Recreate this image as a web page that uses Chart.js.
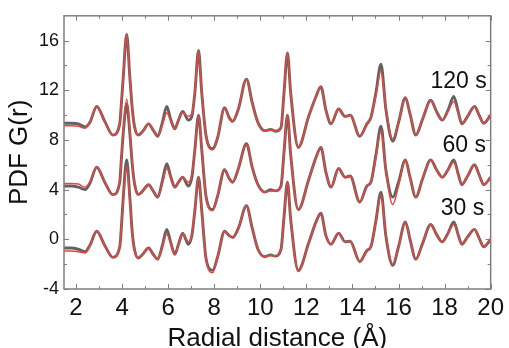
<!DOCTYPE html>
<html>
<head>
<meta charset="utf-8">
<script src="https://cdn.jsdelivr.net/npm/chart.js@4.4.0/dist/chart.umd.min.js"></script>
<style>
  html, body { margin: 0; padding: 0; background: #fff; }
  #wrap { width: 509px; height: 348px; }
</style>
</head>
<body>
<div id="wrap"><canvas id="pdfChart"></canvas></div>
<script>
// radial distance r (Å), shared by all six curves
const radius = [1.48, 1.8, 2.1, 2.4, 2.6, 2.9, 3.25, 3.6, 3.9, 3.95, 4.05, 4.2, 4.34, 4.45, 4.55, 4.7, 4.9, 5.15, 5.35, 5.55,
  5.75, 5.94, 6.12, 6.29, 6.45, 6.63, 6.88, 7.03, 7.16, 7.32, 7.46, 7.65, 7.93, 8.15, 8.45, 8.65, 8.8, 9.05, 9.4, 9.65,
  9.9, 10.2, 10.45, 10.65, 10.9, 11.03, 11.18, 11.32, 11.65, 12.1, 12.42, 12.63, 12.85, 13.07, 13.4, 13.68, 13.9, 14.32, 14.63, 14.8,
  15.02, 15.24, 15.45, 15.75, 16.0, 16.3, 16.5, 16.75, 17.05, 17.4, 17.65, 17.9, 18.15, 18.4, 18.6, 18.75, 19.0, 19.3, 19.5, 19.7, 20.0];

// measured G(r), curves already offset as in the figure
const data120 = [9.35, 9.35, 9.3, 9.05, 9.4, 10.7, 9.5, 8.4, 9.3, 10.4, 13.0, 16.5, 13.0, 10.4, 9.0, 8.4, 8.7, 9.3, 8.8, 8.3,
  9.4, 10.7, 9.6, 8.9, 9.6, 10.3, 9.6, 9.9, 11.8, 15.2, 11.8, 8.3, 7.3, 8.2, 10.6, 9.8, 9.5, 10.5, 12.9, 11.0,
  9.4, 8.75, 8.85, 8.7, 9.0, 11.8, 15.0, 11.8, 7.4, 9.9, 11.5, 12.3, 10.4, 9.3, 10.5, 9.9, 10.0, 8.3, 9.3, 9.8,
  11.8, 14.1, 10.5, 7.9, 9.4, 11.4, 10.1, 8.4, 9.7, 11.2, 10.3, 9.6, 10.4, 11.5, 10.2, 9.3, 9.9, 10.7, 10.0, 9.35, 10.0];
const fit120 = [9.15, 9.15, 9.1, 8.95, 9.4, 10.7, 9.5, 8.4, 9.3, 10.4, 13.0, 16.5, 13.0, 10.4, 9.0, 8.4, 8.7, 9.3, 8.8, 8.3,
  9.2, 10.2, 9.5, 8.9, 9.6, 10.2, 9.9, 10.1, 11.8, 15.2, 11.8, 8.3, 7.2, 8.2, 10.6, 9.8, 9.5, 10.5, 12.9, 11.0,
  9.4, 8.75, 8.8, 8.7, 9.0, 11.8, 15.0, 11.8, 7.4, 9.9, 11.5, 12.3, 10.4, 9.3, 10.5, 9.9, 10.0, 8.3, 9.3, 9.8,
  11.6, 13.6, 10.6, 8.1, 9.4, 11.4, 10.1, 8.4, 9.7, 11.2, 10.3, 9.6, 10.3, 11.1, 10.1, 9.3, 9.9, 10.7, 10.0, 9.35, 10.0];

const data60 = [4.3, 4.3, 4.2, 4.0, 4.5, 5.8, 4.6, 3.6, 4.6, 5.9, 8.5, 10.9, 8.5, 5.9, 4.4, 3.6, 3.9, 4.4, 3.9, 3.4,
  4.7, 6.1, 5.0, 4.2, 4.6, 5.0, 4.3, 5.0, 7.2, 10.0, 7.2, 3.4, 2.4, 3.5, 5.6, 4.9, 4.6, 5.7, 7.7, 5.8,
  4.4, 3.8, 4.0, 3.9, 4.3, 7.0, 10.0, 6.8, 2.4, 4.8, 6.6, 7.4, 5.4, 4.2, 5.7, 5.0, 5.1, 3.0, 4.3, 4.6,
  6.8, 9.1, 5.6, 3.4, 4.6, 6.4, 5.0, 3.4, 4.9, 6.4, 5.6, 5.0, 5.6, 6.4, 5.2, 4.4, 5.1, 6.0, 5.2, 4.4, 5.0];
const fit60 = [4.5, 4.5, 4.45, 4.2, 4.6, 5.8, 4.6, 3.6, 4.7, 6.0, 8.7, 11.3, 8.7, 6.0, 4.4, 3.6, 3.9, 4.4, 3.9, 3.4,
  4.5, 5.7, 4.9, 4.2, 4.6, 5.0, 4.6, 5.2, 7.2, 10.0, 7.2, 3.4, 2.3, 3.5, 5.6, 4.9, 4.6, 5.7, 7.7, 5.8,
  4.4, 3.8, 3.9, 3.9, 4.3, 7.0, 10.0, 6.8, 2.4, 4.8, 6.6, 7.4, 5.4, 4.2, 5.7, 5.0, 5.1, 3.0, 4.3, 4.6,
  6.6, 8.8, 5.5, 2.8, 4.3, 6.4, 5.0, 3.4, 4.9, 6.4, 5.6, 5.0, 5.6, 6.2, 5.2, 4.4, 5.1, 6.0, 5.2, 4.4, 5.0];

const data30 = [-0.7, -0.7, -0.8, -1.0, -0.5, 0.65, -0.5, -1.45, -0.6, 0.4, 3.3, 6.4, 3.3, 0.4, -0.9, -1.5, -1.2, -0.7, -1.2, -1.6,
  -0.5, 0.8, -0.3, -1.2, -0.4, 0.5, -0.4, 0.3, 2.3, 5.0, 2.3, -1.6, -2.5, -1.4, 0.65, 0.3, 0.15, 0.9, 2.7, 0.9,
  -0.8, -1.4, -1.25, -1.35, -0.8, 1.8, 4.6, 1.6, -2.5, -0.3, 1.4, 2.1, 0.3, -0.4, 0.5, -0.2, -0.15, -1.8, -0.9, -0.6,
  1.5, 3.8, 0.3, -2.1, -0.6, 1.4, 0.0, -1.6, -0.3, 1.2, 0.4, -0.2, 0.5, 1.4, 0.3, -0.4, 0.2, 0.8, 0.1, -0.6, 0.0];
const fit30 = [-0.95, -0.95, -1.0, -1.1, -0.55, 0.65, -0.5, -1.45, -0.6, 0.4, 3.1, 5.9, 3.1, 0.4, -0.9, -1.5, -1.2, -0.7, -1.2, -1.6,
  -0.6, 0.4, -0.4, -1.2, -0.4, 0.45, -0.2, 0.4, 2.3, 5.0, 2.3, -1.6, -2.7, -1.4, 0.65, 0.3, 0.15, 0.9, 2.7, 0.9,
  -0.8, -1.4, -1.3, -1.35, -0.8, 1.8, 4.6, 1.6, -2.6, -0.3, 1.4, 2.1, 0.3, -0.4, 0.5, -0.2, -0.15, -1.8, -0.9, -0.6,
  1.4, 3.6, 0.4, -2.0, -0.6, 1.4, 0.0, -1.6, -0.3, 1.2, 0.4, -0.2, 0.5, 1.2, 0.3, -0.4, 0.2, 0.8, 0.1, -0.6, 0.0];

const xTicks = [2, 4, 6, 8, 10, 12, 14, 16, 18, 20];
const xMinorTicks = [3, 5, 7, 9, 11, 13, 15, 17, 19];
const yTicks = [-4, 0, 4, 8, 12, 16];
const yMinorTicks = [-2, 2, 6, 10, 14];

const curveLabels = ['120 s', '60 s', '30 s'];
const labelAnchors = [[19.83, 12.2], [19.8, 7.0], [19.72, 1.95]];

const FONT = "'Liberation Sans', Arial, sans-serif";
const AXIS_COLOR = '#857b7b';

const toPoints = (ys) => ys.map((y, i) => ({ x: radius[i], y }));

function fitSet(ys) {
    return { data: toPoints(ys), borderColor: '#e8463e', borderWidth: 1.5, pointRadius: 0,
        cubicInterpolationMode: 'monotone', order: 0 };
}
function dataSet(ys) {
    return { data: toPoints(ys), borderColor: 'rgba(70, 70, 70, 0.85)', borderWidth: 2.9, pointRadius: 0,
        cubicInterpolationMode: 'monotone', order: 1 };
}

// frame with inward ticks on all four sides, plus curve labels
const framePlugin = {
    id: 'frame',
    afterDraw(chart) {
        const { ctx, chartArea: a, scales: { x, y } } = chart;
        ctx.save();
        ctx.strokeStyle = AXIS_COLOR;
        ctx.lineWidth = 1.5;
        ctx.strokeRect(a.left, a.top, a.right - a.left, a.bottom - a.top);
        ctx.lineWidth = 1;
        ctx.beginPath();
        const xt = (vals, len) => vals.forEach(v => {
            const px = Math.round(x.getPixelForValue(v)) + 0.5;
            ctx.moveTo(px, a.bottom); ctx.lineTo(px, a.bottom - len);
            ctx.moveTo(px, a.top); ctx.lineTo(px, a.top + len);
        });
        const yt = (vals, len) => vals.forEach(v => {
            const py = Math.round(y.getPixelForValue(v)) + 0.5;
            ctx.moveTo(a.left, py); ctx.lineTo(a.left + len, py);
            ctx.moveTo(a.right, py); ctx.lineTo(a.right - len, py);
        });
        xt(xTicks, 5); xt(xMinorTicks, 3);
        yt(yTicks, 5); yt(yMinorTicks, 3);
        ctx.stroke();

        ctx.fillStyle = '#111';
        ctx.font = '23px ' + FONT;
        ctx.textAlign = 'right';
        ctx.textBaseline = 'alphabetic';
        curveLabels.forEach((t, i) => {
            ctx.fillText(t, x.getPixelForValue(labelAnchors[i][0]), y.getPixelForValue(labelAnchors[i][1]));
        });
        ctx.restore();
    }
};

new Chart(document.getElementById('pdfChart'), {
    type: 'line',
    data: {
        datasets: [fitSet(fit120), fitSet(fit60), fitSet(fit30), dataSet(data120), dataSet(data60), dataSet(data30)]
    },
    options: {
        responsive: true,
        maintainAspectRatio: false,
        animation: false,
        layout: { padding: { top: 14, right: 16, left: 0, bottom: 0 } },
        plugins: { legend: { display: false }, tooltip: { enabled: false } },
        scales: {
            x: {
                type: 'linear',
                min: 1.48,
                max: 20,
                grid: { display: false, drawTicks: false },
                border: { display: false },
                afterBuildTicks: (s) => { s.ticks = xTicks.map(v => ({ value: v })); },
                afterFit: (s) => { s.height = 59; },
                ticks: { color: '#111', padding: 5, maxRotation: 0, font: { family: FONT, size: 24 } },
                title: { display: true, text: 'Radial distance (Å)', color: '#111', padding: { top: 0, bottom: -6 },
                    font: { family: FONT, size: 26 } }
            },
            y: {
                min: -4,
                max: 18,
                grid: { display: false, drawTicks: false },
                border: { display: false },
                afterBuildTicks: (s) => { s.ticks = yTicks.map(v => ({ value: v })); },
                afterFit: (s) => { s.width = 64; },
                ticks: { color: '#111', padding: 5, font: { family: FONT, size: 18 } },
                title: { display: true, text: 'PDF G(r)', color: '#111', padding: { top: 4, bottom: 0 },
                    font: { family: FONT, size: 26 } }
            }
        }
    },
    plugins: [framePlugin]
});
</script>
</body>
</html>
